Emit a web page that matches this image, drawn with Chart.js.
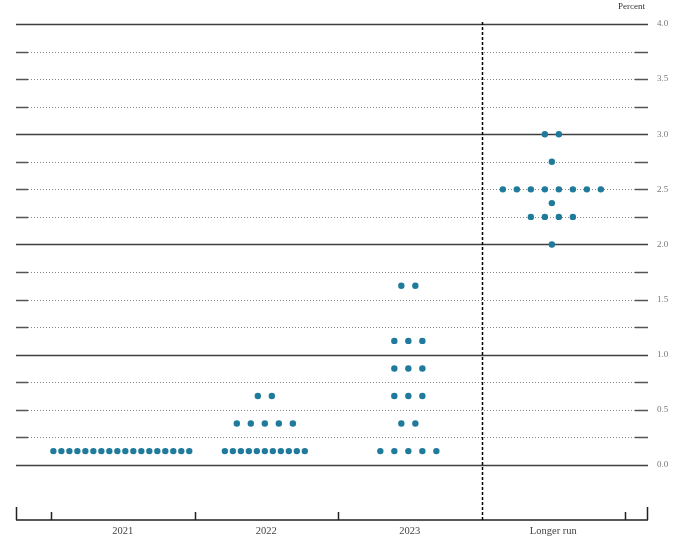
<!DOCTYPE html>
<html lang="en">
  <head>
    <meta charset="utf-8" />
    <title>FOMC participants' assessments</title>
    <style>
      * {
        margin: 0;
        padding: 0;
      }
      body {
        background: white;
      }
      .chartBox {
        width: 700px;
        height: 548px;
      }
    </style>
  </head>
  <body>
    <div class="chartBox">
      <canvas id="myChart"></canvas>
    </div>

    <script src="https://cdn.jsdelivr.net/npm/chart.js@4.2.1/dist/chart.umd.min.js"></script>

    <script>
      // categories along the bottom
      const categories = ["2021", "2022", "2023", "Longer run"];

      // midpoint of target range and number of participants at each level
      const rates2021 = [0.125];
      const counts2021 = [18];
      const rates2022 = [0.125, 0.375, 0.625];
      const counts2022 = [11, 5, 2];
      const rates2023 = [0.125, 0.375, 0.625, 0.875, 1.125, 1.625];
      const counts2023 = [5, 2, 3, 3, 3, 2];
      const ratesLonger = [2.0, 2.25, 2.375, 2.5, 2.75, 3.0];
      const countsLonger = [1, 4, 1, 8, 1, 2];

      // labelled values on the right axis
      const yTickLabels = [0.0, 0.5, 1.0, 1.5, 2.0, 2.5, 3.0, 3.5, 4.0];

      const rateLists = [rates2021, rates2022, rates2023, ratesLonger];
      const countLists = [counts2021, counts2022, counts2023, countsLonger];

      // spread the dots of one rate level around the category centre
      const points = [];
      rateLists.forEach((rates, c) => {
        rates.forEach((rate, r) => {
          const n = countLists[c][r];
          const step = n > 9 ? 0.0557 : 0.0976;
          for (let j = 0; j < n; j++) {
            points.push({ x: c + 0.49 + (j - (n - 1) / 2) * step, y: rate });
          }
        });
      });

      const dotGrid = {
        id: "dotGrid",
        beforeDatasetsDraw(chart) {
          const { ctx, chartArea, scales } = chart;
          const { left, right, top, bottom } = chartArea;
          const x = scales.x;
          const y = scales.y;
          ctx.save();

          // horizontal rules every quarter point
          y.ticks.forEach((t) => {
            if (t.value < 0) return;
            const py = Math.round(y.getPixelForValue(t.value)) + 0.5;
            if (Math.abs(t.value - Math.round(t.value)) < 1e-6) {
              ctx.strokeStyle = "#3f3f3f";
              ctx.lineWidth = 1.5;
              ctx.setLineDash([]);
              ctx.beginPath();
              ctx.moveTo(left, py);
              ctx.lineTo(right, py);
              ctx.stroke();
            } else {
              ctx.strokeStyle = "#555";
              ctx.lineWidth = 1.4;
              ctx.setLineDash([]);
              ctx.beginPath();
              ctx.moveTo(left, py);
              ctx.lineTo(left + 12, py);
              ctx.moveTo(right - 13, py);
              ctx.lineTo(right, py);
              ctx.stroke();
              ctx.strokeStyle = "#888";
              ctx.lineWidth = 1;
              ctx.setLineDash([1, 2]);
              ctx.beginPath();
              ctx.moveTo(left + 12, py);
              ctx.lineTo(right - 13, py);
              ctx.stroke();
            }
          });

          // bottom axis with category boundaries
          ctx.setLineDash([]);
          ctx.strokeStyle = "#222";
          ctx.lineWidth = 1.5;
          ctx.beginPath();
          ctx.moveTo(left, bottom);
          ctx.lineTo(right, bottom);
          ctx.moveTo(left + 0.5, bottom);
          ctx.lineTo(left + 0.5, bottom - 13);
          ctx.moveTo(right - 0.5, bottom);
          ctx.lineTo(right - 0.5, bottom - 13);
          for (let i = 0; i <= categories.length; i++) {
            if (i === 3) continue;
            const px = Math.round(x.getPixelForValue(i)) + 0.5;
            ctx.moveTo(px, bottom);
            ctx.lineTo(px, bottom - 8);
          }
          ctx.stroke();

          // dashed divider before the longer run
          const dx = Math.round(x.getPixelForValue(3)) + 0.5;
          ctx.strokeStyle = "#000";
          ctx.lineWidth = 1.5;
          ctx.setLineDash([3, 2]);
          ctx.beginPath();
          ctx.moveTo(dx, top - 2);
          ctx.lineTo(dx, bottom);
          ctx.stroke();

          // unit label
          ctx.setLineDash([]);
          ctx.fillStyle = "#333";
          ctx.font = "9px 'Liberation Serif'";
          ctx.textAlign = "right";
          ctx.textBaseline = "middle";
          ctx.fillText("Percent", right - 3, 7);
          ctx.restore();
        },
      };

      const config = {
        type: "scatter",
        data: {
          datasets: [
            {
              data: points,
              backgroundColor: "#1f7a9c",
              borderWidth: 0,
              pointRadius: 3.2,
            },
          ],
        },
        options: {
          responsive: true,
          maintainAspectRatio: false,
          animation: false,
          layout: {
            padding: { left: 16, top: 24, right: 0, bottom: 0 },
          },
          scales: {
            x: {
              type: "linear",
              min: -0.244,
              max: 4.16,
              grid: { display: false },
              border: { display: false },
              afterBuildTicks: (scale) => {
                scale.ticks = categories.map((c, i) => ({ value: i + 0.5 }));
              },
              afterFit: (scale) => {
                scale.height = 28;
              },
              ticks: {
                autoSkip: false,
                maxRotation: 0,
                padding: -3,
                color: "#444",
                font: { family: "'Liberation Serif'", size: 10.5 },
                callback: (value, index) => categories[index],
              },
            },
            y: {
              position: "right",
              min: -0.5,
              max: 4,
              grid: { display: false, drawTicks: false },
              border: { display: false },
              afterFit: (scale) => {
                scale.width = 52;
              },
              ticks: {
                stepSize: 0.25,
                autoSkip: false,
                padding: 9,
                color: "#777",
                font: { family: "'Liberation Serif'", size: 9 },
                callback: (value) => {
                  const hit = yTickLabels.find((v) => Math.abs(v - value) < 1e-6);
                  return hit === undefined ? "" : hit.toFixed(1);
                },
              },
            },
          },
          plugins: {
            legend: { display: false },
            tooltip: { enabled: false },
          },
        },
        plugins: [dotGrid],
      };

      const myChart = new Chart(document.getElementById("myChart"), config);
    </script>
  </body>
</html>
